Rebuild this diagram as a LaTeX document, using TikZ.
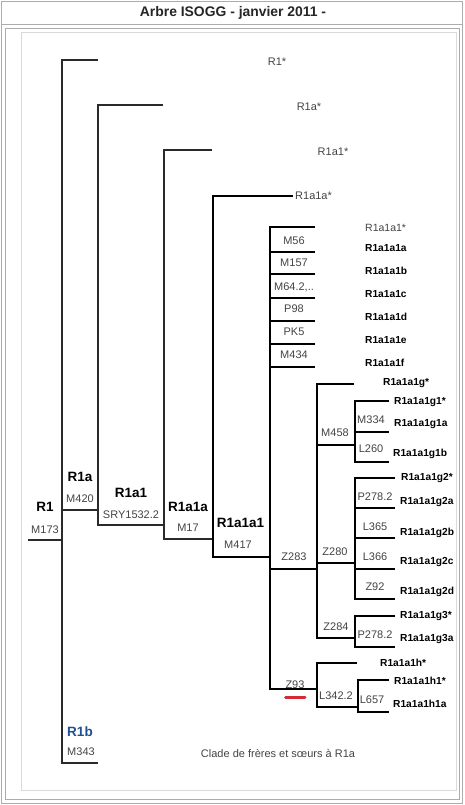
\documentclass[tikz,border=0pt]{standalone}
\usepackage{fontspec}
\setmainfont{Liberation Sans}
\definecolor{thinline}{HTML}{2A2A2A}
\definecolor{labgray}{HTML}{444444}
\definecolor{rbblue}{HTML}{1F4E96}
\definecolor{ulred}{HTML}{D42A35}
\begin{document}
\begin{tikzpicture}[x=1pt,y=-1pt,
  thin tree/.style={draw=thinline,line width=1.1pt},
  thick tree/.style={draw=black,line width=2pt},
  lab/.style={font=\fontsize{11}{12}\selectfont,text=labgray,inner sep=0pt},
  blab/.style={font=\fontsize{13.5}{15}\selectfont\bfseries,text=black,inner sep=0pt},
  rlab/.style={font=\fontsize{10.2}{12}\selectfont\bfseries,text=black,inner sep=0pt,anchor=west},
  rnlab/.style={font=\fontsize{10.5}{12}\selectfont,text=labgray,inner sep=0pt,anchor=west},
  frame/.style={draw=gray!65,line width=0.8pt}]
\useasboundingbox (0,0) rectangle (464,805);
\fill[white] (0,0) rectangle (464,805);
% frames
\draw[frame] (1.5,1) rectangle (462.5,803);
\draw[frame] (1.5,24.5) -- (462.5,24.5);
\draw[frame] (5,28) rectangle (459.5,799);
\draw[draw=gray!30,line width=0.8pt] (21.5,32) rectangle (456,790);
\node[font=\fontsize{13.9}{15}\selectfont\bfseries,text=black!85] (title) at (233,13) {Arbre ISOGG - janvier 2011 -};

% thin tree
\draw[thin tree] (28,540) -- (62,540);
\draw[thin tree] (98,60) -- (62,60) -- (62,763) -- (98,763);
\draw[thin tree] (62,510) -- (98,510);
\draw[thin tree] (163,105) -- (98,105) -- (98,525) -- (164,525);
\draw[thin tree] (212,150) -- (164,150) -- (164,539) -- (213,539);
% thick tree
\draw[thick tree] (293,196) -- (213,196) -- (213,557) -- (270,557);
\draw[thick tree] (315,227) -- (270,227) -- (270,689) -- (317,689);
\foreach \y in {252,274,298,321,344,367} \draw[thick tree] (270,\y) -- (315,\y);
\draw[thick tree] (270,569) -- (317,569);
\draw[thick tree] (354,384) -- (317,384) -- (317,638) -- (355,638);
\draw[thick tree] (317,445) -- (355,445);
\draw[thick tree] (317,563) -- (355,563);
\draw[thick tree] (389,401) -- (355,401) -- (355,462) -- (389,462);
\draw[thick tree] (355,432) -- (389,432);
\draw[thick tree] (395,478) -- (355,478) -- (355,599) -- (395,599);
\foreach \y in {508,538,569} \draw[thick tree] (355,\y) -- (395,\y);
\draw[thick tree] (395,616) -- (355,616) -- (355,647) -- (395,647);
\draw[thick tree] (357,663) -- (317,663) -- (317,707) -- (358,707);
\draw[thick tree] (389,680) -- (358,680) -- (358,712) -- (389,712);
\draw[draw=ulred,line width=3pt,line cap=round] (285.5,697) -- (305,697);

% left labels
\node[blab] (r1) at (45,507) {R1};
\node[lab] (m173) at (45,530) {M173};
\node[blab] (r1a) at (80,477) {R1a};
\node[lab] (m420) at (80,499) {M420};
\node[blab] (r1a1) at (131,493) {R1a1};
\node[lab] (sry) at (131,515) {SRY1532.2};
\node[blab] (r1a1a) at (188,507) {R1a1a};
\node[lab] (m17) at (188,528) {M17};
\node[blab] (r1a1a1) at (240.5,523) {R1a1a1};
\node[lab] (m417) at (238,545) {M417};
\node[blab,text=rbblue] (r1b) at (80,732) {R1b};
\node[lab] (m343) at (81,752) {M343};
\node[lab] (clade) at (278,753) {Clade de frères et sœurs à R1a};

% top labels
\node[lab] (r1s) at (277,62) {R1*};
\node[lab] (r1as) at (309,107) {R1a*};
\node[lab] (r1a1s) at (333,152) {R1a1*};
\node[lab,anchor=west] (r1a1as) at (295,196) {R1a1a*};

% Z283 group labels
\node[lab] (m56) at (294,241) {M56};
\node[lab] (m157) at (294,263) {M157};
\node[lab] (m642) at (294,287) {M64.2,..};
\node[lab] (p98) at (294,309) {P98};
\node[lab] (pk5) at (294,332) {PK5};
\node[lab] (m434) at (294,355) {M434};
\node[lab] (z283) at (294,557) {Z283};
\node[lab] (m458) at (335,433) {M458};
\node[lab] (z280) at (335,552) {Z280};
\node[lab] (z284) at (336,627) {Z284};
\node[lab] (z93) at (295,685) {Z93};
\node[lab] (l342) at (336,696) {L342.2};
\node[lab] (m334) at (371,420) {M334};
\node[lab] (l260) at (371,449) {L260};
\node[lab] (p2782a) at (375,497) {P278.2};
\node[lab] (l365) at (375,527) {L365};
\node[lab] (l366) at (375,557) {L366};
\node[lab] (z92) at (375,587) {Z92};
\node[lab] (p2782b) at (375,635) {P278.2};
\node[lab] (l657) at (372,700) {L657};

% right labels
\node[rnlab] (a1s) at (365,228) {R1a1a1*};
\node[rlab] (a1a) at (365,248) {R1a1a1a};
\node[rlab] (a1b) at (365,271) {R1a1a1b};
\node[rlab] (a1c) at (365,294) {R1a1a1c};
\node[rlab] (a1d) at (365,317) {R1a1a1d};
\node[rlab] (a1e) at (365,340) {R1a1a1e};
\node[rlab] (a1f) at (365,363) {R1a1a1f};
\node[rlab] (gs) at (383,383) {R1a1a1g*};
\node[rlab] (g1s) at (394,402) {R1a1a1g1*};
\node[rlab] (g1a) at (394,424) {R1a1a1g1a};
\node[rlab] (g1b) at (393,454) {R1a1a1g1b};
\node[rlab] (g2s) at (401,478) {R1a1a1g2*};
\node[rlab] (g2a) at (400,502) {R1a1a1g2a};
\node[rlab] (g2b) at (400,533) {R1a1a1g2b};
\node[rlab] (g2c) at (400,562) {R1a1a1g2c};
\node[rlab] (g2d) at (400,592) {R1a1a1g2d};
\node[rlab] (g3s) at (400,616) {R1a1a1g3*};
\node[rlab] (g3a) at (400,639) {R1a1a1g3a};
\node[rlab] (hs) at (380,663) {R1a1a1h*};
\node[rlab] (h1s) at (394,681) {R1a1a1h1*};
\node[rlab] (h1a) at (393,704) {R1a1a1h1a};
\end{tikzpicture}
\end{document}
